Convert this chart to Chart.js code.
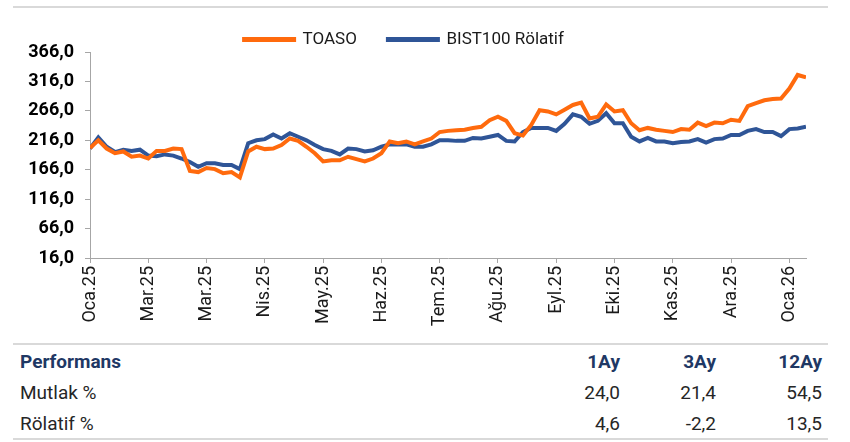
<!DOCTYPE html>
<html>
<head>
<meta charset="utf-8">
<script src="https://cdn.jsdelivr.net/npm/chart.js@4.4.1/dist/chart.umd.min.js"></script>
<style>
  body { margin: 0; background: #fff; font-family: Roboto, "Noto Sans", sans-serif; }
  #wrap { position: absolute; left: 0; top: 0; width: 850px; height: 342px; }
  .rule { position: absolute; left: 13px; width: 815px; height: 2px; background: #d9d9d9; }
  table { position: absolute; left: 13px; top: 346px; width: 815px; border-collapse: collapse;
          font-size: 19px; color: #262626; table-layout: fixed; }
  td { padding: 0; height: 31px; white-space: nowrap; }
  td.l { padding-left: 7px; }
  td.n { text-align: right; }
  td.last { padding-right: 6px; }
  tr.head td { color: #1f3864; font-weight: bold; }
</style>
</head>
<body>
<div class="rule" style="top:6px"></div>
<div id="wrap"><canvas id="chart"></canvas></div>
<div class="rule" style="top:343px"></div>
<table>
  <colgroup><col style="width:507px"><col style="width:100px"><col style="width:96px"><col style="width:112px"></colgroup>
  <tr class="head"><td class="l">Performans</td><td class="n">1Ay</td><td class="n">3Ay</td><td class="n last">12Ay</td></tr>
  <tr><td class="l">Mutlak %</td><td class="n">24,0</td><td class="n">21,4</td><td class="n last">54,5</td></tr>
  <tr><td class="l">Rölatif %</td><td class="n">4,6</td><td class="n">-2,2</td><td class="n last">13,5</td></tr>
</table>
<div class="rule" style="top:438px"></div>
<script>
// x labels, one every 7 samples (a sample is roughly 3 trading days)
const xLabels = ["Oca.25", "Mar.25", "Mar.25", "Nis.25", "May.25", "Haz.25", "Tem.25",
                 "Ağu.25", "Eyl.25", "Eki.25", "Kas.25", "Ara.25", "Oca.26"];
const samplesPerLabel = 7;

const toaso = [
  203, 216, 202, 194, 197, 188, 190, 185, 198, 198,
  202, 201, 164, 162, 169, 167, 160, 162, 153, 197,
  205, 201, 202, 208, 219, 215, 205, 194, 180, 182,
  182, 188, 184, 180, 185, 194, 214, 211, 214, 209,
  214, 219, 230, 232, 233, 234, 237, 239, 250, 256,
  249, 228, 224, 242, 267, 265, 260, 268, 276, 280,
  253, 256, 277, 265, 267, 245, 233, 237, 234, 232,
  230, 235, 234, 246, 240, 246, 245, 251, 249, 274,
  279, 284, 286, 287, 304, 327, 323
];

const bist100Rel = [
  202, 221, 205, 196, 200, 198, 200, 190, 189, 192,
  190, 185, 179, 171, 177, 177, 174, 174, 167, 211,
  216, 218, 226, 219, 228, 222, 216, 208, 201, 198,
  192, 202, 201, 197, 199, 205, 209, 209, 209, 205,
  205, 209, 216, 216, 215, 215, 220, 219, 222, 225,
  215, 214, 230, 237, 237, 237, 232, 244, 260, 256,
  244, 249, 262, 245, 245, 222, 214, 220, 214, 214,
  211, 213, 214, 218, 212, 218, 219, 225, 225, 232,
  235, 230, 230, 223, 235, 236, 239
];

const yMin = 16;
const yMax = 366;
const yStep = 50;

const ORANGE = "#ff6a0d";
const BLUE = "#2f5597";

function toPoints(values) {
  return values.map((v, i) => ({ x: i, y: v }));
}

function makeDataset(label, values, color) {
  return {
    label: label,
    data: toPoints(values),
    borderColor: color,
    backgroundColor: color,
    borderWidth: 4,
    pointRadius: 0,
    tension: 0,
    fill: false
  };
}

new Chart(document.getElementById("chart"), {
  type: "line",
  data: {
    datasets: [
      makeDataset("TOASO", toaso, ORANGE),
      makeDataset("BIST100 Rölatif", bist100Rel, BLUE)
    ]
  },
  options: {
    animation: false,
    responsive: true,
    maintainAspectRatio: false,
    layout: { padding: { left: 2, right: 44, top: 0, bottom: 0 } },
    plugins: {
      tooltip: { enabled: false },
      legend: {
        position: "top",
        maxHeight: 52,
        labels: {
          boxWidth: 50,
          boxHeight: 1,
          padding: 31,
          color: "#1a1a1a",
          font: { family: "Roboto", size: 17 }
        }
      }
    },
    scales: {
      x: {
        type: "linear",
        min: 0,
        max: toaso.length - 1,
        afterFit: s => { s.height = 84; },
        border: { color: "#a6a6a6", width: 1 },
        grid: { drawOnChartArea: false, tickLength: 5, color: "#a6a6a6" },
        ticks: {
          stepSize: samplesPerLabel,
          includeBounds: false,
          autoSkip: false,
          minRotation: 90,
          maxRotation: 90,
          padding: 3,
          color: "#1a1a1a",
          font: { family: "Roboto", size: 18 },
          callback: v => xLabels[Math.round(v / samplesPerLabel)]
        }
      },
      y: {
        min: yMin,
        max: yMax,
        afterFit: s => { s.width = 88; },
        border: { color: "#a6a6a6", width: 1 },
        grid: { drawOnChartArea: false, tickLength: 5, color: "#a6a6a6" },
        ticks: {
          stepSize: yStep,
          padding: 11,
          color: "#000",
          font: { family: "Roboto", size: 18, weight: "bold" },
          callback: v => v.toFixed(1).replace(".", ",")
        }
      }
    }
  }
});
</script>
</body>
</html>
